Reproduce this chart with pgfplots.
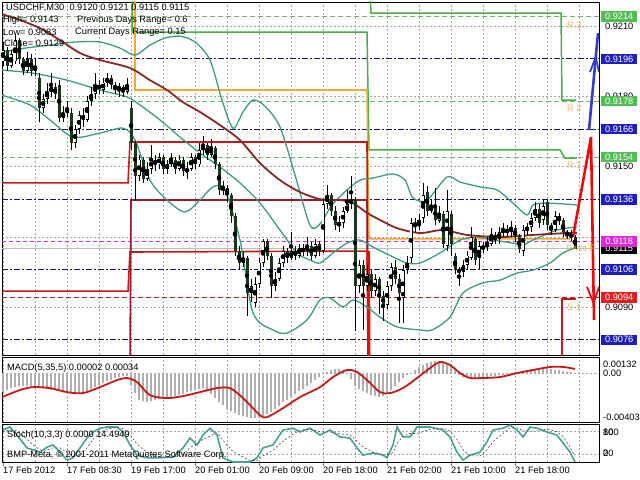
\documentclass[border=0pt]{standalone}
\usepackage{pgfplots}
\pgfplotsset{compat=1.18}
\usepackage{pgfplotstable}
\usepackage{fontspec}
\setmainfont{Liberation Sans}
\definecolor{gridc}{RGB}{165,165,165}
\definecolor{navyc}{RGB}{20,20,120}
\definecolor{navybox}{RGB}{30,30,190}
\definecolor{grnc}{RGB}{70,175,70}
\definecolor{grnbox}{RGB}{80,190,80}
\definecolor{grndash}{RGB}{110,185,110}
\definecolor{orac}{RGB}{240,170,50}
\definecolor{redc}{RGB}{200,25,25}
\definecolor{brightred}{RGB}{235,10,10}
\definecolor{maroonc}{RGB}{150,25,45}
\definecolor{mac}{RGB}{135,40,40}
\definecolor{tealc}{RGB}{60,155,130}
\definecolor{bearc}{RGB}{25,55,25}
\definecolor{magc}{RGB}{225,40,225}
\definecolor{redbox}{RGB}{225,30,30}
\definecolor{histc}{RGB}{175,175,175}
\definecolor{stochc}{RGB}{70,160,150}
\definecolor{pivtxt}{RGB}{235,185,110}
\definecolor{arrblue}{RGB}{50,60,200}
\definecolor{curc}{RGB}{190,190,190}
\newcommand{\lbl}{\fontsize{9.3}{10}\selectfont}

\pgfplotstableread{
x o h l c
3 0.9195 0.9203 0.9193 0.9200
11 0.9193 0.9200 0.9192 0.9198
15 0.9195 0.9206 0.9194 0.9204
27 0.9191 0.9199 0.9190 0.9196
35 0.9191 0.9196 0.9189 0.9193
43 0.9175 0.9181 0.9173 0.9179
47 0.9179 0.9186 0.9177 0.9182
51 0.9182 0.9190 0.9180 0.9184
63 0.9171 0.9176 0.9169 0.9173
67 0.9173 0.9178 0.9171 0.9175
75 0.9160 0.9168 0.9158 0.9166
79 0.9166 0.9174 0.9164 0.9172
87 0.9170 0.9180 0.9169 0.9178
91 0.9178 0.9184 0.9176 0.9181
95 0.9181 0.9190 0.9179 0.9185
103 0.9183 0.9188 0.9181 0.9186
107 0.9186 0.9190 0.9184 0.9188
119 0.9183 0.9186 0.9180 0.9184
127 0.9182 0.9188 0.9181 0.9185
139 0.9146 0.9155 0.9144 0.9153
147 0.9145 0.9152 0.9144 0.9149
151 0.9149 0.9159 0.9147 0.9153
159 0.9151 0.9156 0.9149 0.9154
167 0.9149 0.9153 0.9147 0.9151
171 0.9151 0.9156 0.9150 0.9153
179 0.9149 0.9155 0.9148 0.9153
187 0.9148 0.9152 0.9145 0.9149
191 0.9149 0.9156 0.9148 0.9154
199 0.9151 0.9160 0.9150 0.9157
203 0.9157 0.9163 0.9155 0.9159
211 0.9155 0.9162 0.9154 0.9158
223 0.9140 0.9144 0.9138 0.9141
243 0.9109 0.9114 0.9107 0.9111
251 0.9096 0.9102 0.9092 0.9099
255 0.9092 0.9103 0.9090 0.9100
259 0.9100 0.9111 0.9098 0.9109
263 0.9109 0.9119 0.9107 0.9118
275 0.9099 0.9105 0.9097 0.9102
279 0.9102 0.9111 0.9101 0.9109
283 0.9109 0.9116 0.9107 0.9114
291 0.9111 0.9122 0.9110 0.9114
299 0.9112 0.9117 0.9111 0.9115
307 0.9114 0.9120 0.9112 0.9116
315 0.9112 0.9119 0.9111 0.9117
323 0.9114 0.9136 0.9113 0.9134
327 0.9134 0.9142 0.9132 0.9138
339 0.9125 0.9129 0.9122 0.9126
343 0.9126 0.9133 0.9124 0.9131
347 0.9131 0.9140 0.9130 0.9134
351 0.9134 0.9146 0.9132 0.9136
359 0.9099 0.9110 0.9096 0.9108
367 0.9099 0.9108 0.9097 0.9104
375 0.9097 0.9104 0.9095 0.9102
387 0.9091 0.9101 0.9089 0.9099
391 0.9099 0.9109 0.9097 0.9107
403 0.9094 0.9108 0.9083 0.9106
407 0.9106 0.9112 0.9104 0.9109
411 0.9111 0.9128 0.9109 0.9126
419 0.9125 0.9130 0.9123 0.9126
423 0.9128 0.9143 0.9126 0.9138
431 0.9131 0.9136 0.9130 0.9133
439 0.9127 0.9133 0.9126 0.9130
447 0.9116 0.9140 0.9114 0.9131
463 0.9105 0.9110 0.9103 0.9108
467 0.9108 0.9114 0.9106 0.9112
471 0.9111 0.9124 0.9110 0.9120
479 0.9111 0.9118 0.9106 0.9116
483 0.9115 0.9118 0.9113 0.9116
487 0.9116 0.9120 0.9114 0.9117
491 0.9117 0.9124 0.9116 0.9121
499 0.9119 0.9124 0.9117 0.9122
503 0.9122 0.9126 0.9120 0.9123
511 0.9122 0.9127 0.9120 0.9124
523 0.9114 0.9125 0.9112 0.9123
527 0.9123 0.9126 0.9121 0.9124
531 0.9124 0.9130 0.9122 0.9128
535 0.9128 0.9135 0.9127 0.9132
543 0.9127 0.9136 0.9125 0.9133
555 0.9123 0.9131 0.9122 0.9129
}\bull

\pgfplotstableread{
x o h l c
7 0.9200 0.9201 0.9191 0.9193
19 0.9204 0.9205 0.9194 0.9196
23 0.9196 0.9197 0.9189 0.9191
31 0.9196 0.9198 0.9189 0.9191
39 0.9188 0.9190 0.9169 0.9175
55 0.9184 0.9186 0.9179 0.9181
59 0.9185 0.9187 0.9169 0.9171
71 0.9173 0.9175 0.9157 0.9160
83 0.9172 0.9175 0.9167 0.9170
99 0.9185 0.9187 0.9181 0.9183
111 0.9188 0.9189 0.9183 0.9185
115 0.9185 0.9186 0.9181 0.9183
123 0.9184 0.9185 0.9180 0.9182
131 0.9175 0.9178 0.9157 0.9160
135 0.9160 0.9161 0.9136 0.9146
143 0.9153 0.9154 0.9143 0.9145
155 0.9153 0.9155 0.9148 0.9151
163 0.9154 0.9155 0.9147 0.9149
175 0.9153 0.9154 0.9147 0.9149
183 0.9153 0.9154 0.9146 0.9148
195 0.9154 0.9155 0.9149 0.9151
207 0.9159 0.9160 0.9153 0.9155
215 0.9158 0.9159 0.9149 0.9151
219 0.9151 0.9152 0.9138 0.9140
227 0.9141 0.9142 0.9135 0.9138
231 0.9138 0.9139 0.9126 0.9129
235 0.9129 0.9130 0.9112 0.9114
239 0.9114 0.9116 0.9106 0.9109
247 0.9111 0.9112 0.9086 0.9096
267 0.9118 0.9119 0.9110 0.9112
271 0.9112 0.9113 0.9094 0.9099
287 0.9114 0.9115 0.9109 0.9111
295 0.9114 0.9116 0.9110 0.9112
303 0.9115 0.9117 0.9112 0.9114
311 0.9116 0.9118 0.9110 0.9112
319 0.9117 0.9118 0.9112 0.9114
331 0.9138 0.9139 0.9129 0.9131
335 0.9131 0.9133 0.9123 0.9125
355 0.9136 0.9137 0.9080 0.9099
363 0.9108 0.9110 0.9080 0.9099
371 0.9104 0.9106 0.9094 0.9097
379 0.9102 0.9103 0.9087 0.9095
383 0.9095 0.9097 0.9084 0.9091
395 0.9107 0.9110 0.9100 0.9102
399 0.9102 0.9104 0.9083 0.9096
415 0.9126 0.9128 0.9122 0.9125
427 0.9139 0.9142 0.9129 0.9131
435 0.9133 0.9141 0.9125 0.9127
443 0.9130 0.9131 0.9115 0.9117
451 0.9130 0.9131 0.9112 0.9117
455 0.9112 0.9113 0.9104 0.9106
459 0.9106 0.9107 0.9099 0.9105
475 0.9119 0.9120 0.9108 0.9110
495 0.9121 0.9122 0.9117 0.9119
507 0.9123 0.9125 0.9120 0.9122
515 0.9124 0.9125 0.9118 0.9120
519 0.9120 0.9121 0.9113 0.9115
539 0.9132 0.9134 0.9124 0.9126
547 0.9135 0.9136 0.9123 0.9125
551 0.9125 0.9126 0.9121 0.9123
559 0.9129 0.9130 0.9125 0.9127
563 0.9127 0.9128 0.9120 0.9122
567 0.9122 0.9123 0.9119 0.9121
571 0.9121 0.9123 0.9118 0.9120
575 0.9120 0.9121 0.9115 0.9115
}\bear

\pgfplotstableread{
x v
3 -0.00157
7 -0.00140
11 -0.00124
15 -0.00116
19 -0.00107
23 -0.00107
27 -0.00107
31 -0.00116
35 -0.00116
39 -0.00124
43 -0.00124
47 -0.00132
51 -0.00140
55 -0.00140
59 -0.00149
63 -0.00157
67 -0.00157
71 -0.00165
75 -0.00165
79 -0.00165
83 -0.00157
87 -0.00149
91 -0.00132
95 -0.00116
99 -0.00099
103 -0.00083
107 -0.00066
111 -0.00058
115 -0.00041
119 -0.00033
123 -0.00025
127 -0.00025
131 -0.00099
135 -0.00165
139 -0.00223
143 -0.00231
147 -0.00239
151 -0.00231
155 -0.00223
159 -0.00215
163 -0.00206
167 -0.00206
171 -0.00198
175 -0.00190
179 -0.00182
183 -0.00173
187 -0.00157
191 -0.00149
195 -0.00140
199 -0.00132
203 -0.00124
207 -0.00149
211 -0.00173
215 -0.00206
219 -0.00239
223 -0.00264
227 -0.00297
231 -0.00314
235 -0.00330
239 -0.00347
243 -0.00355
247 -0.00363
251 -0.00371
255 -0.00371
259 -0.00363
263 -0.00355
267 -0.00338
271 -0.00322
275 -0.00297
279 -0.00272
283 -0.00239
287 -0.00223
291 -0.00198
295 -0.00173
299 -0.00149
303 -0.00132
307 -0.00107
311 -0.00083
315 -0.00058
319 -0.00033
323 -0.00008
327 0.00008
331 0.00025
335 0.00033
339 0.00033
343 0.00025
347 -0.00008
351 -0.00050
355 -0.00107
359 -0.00132
363 -0.00149
367 -0.00165
371 -0.00182
375 -0.00190
379 -0.00198
383 -0.00190
387 -0.00165
391 -0.00140
395 -0.00107
399 -0.00074
403 -0.00041
407 -0.00017
411 0.00002
415 0.00025
419 0.00050
423 0.00066
427 0.00083
431 0.00091
435 0.00099
439 0.00099
443 0.00091
447 0.00074
451 0.00050
455 0.00017
459 -0.00017
463 -0.00033
467 -0.00041
471 -0.00050
475 -0.00050
479 -0.00041
483 -0.00033
487 -0.00033
491 -0.00025
495 -0.00025
499 -0.00017
503 -0.00017
507 -0.00008
511 0.00002
515 0.00008
519 0.00008
523 0.00017
527 0.00025
531 0.00033
535 0.00033
539 0.00033
543 0.00041
547 0.00041
551 0.00033
555 0.00025
559 0.00025
563 0.00017
567 0.00008
571 0.00008
575 0.00002
}\macdhist

\pgfplotstableread{
x v
2 -0.00198
20 -0.00140
33 -0.00116
50 -0.00124
67 -0.00157
83 -0.00165
100 -0.00116
117 -0.00058
127 -0.00041
137 -0.00074
150 -0.00182
167 -0.00206
183 -0.00190
200 -0.00157
217 -0.00124
230 -0.00124
243 -0.00206
260 -0.00347
267 -0.00363
283 -0.00289
300 -0.00198
320 -0.00116
333 -0.00033
347 0.00025
357 0.00008
367 -0.00058
380 -0.00157
390 -0.00165
403 -0.00124
417 -0.00041
430 0.00041
440 0.00091
450 0.00066
460 0.00000
470 -0.00041
483 -0.00041
500 -0.00033
517 0.00000
533 0.00025
550 0.00050
563 0.00050
575 0.00034
}\macdsig

\pgfplotstableread{
x v
3 84
10 92
17 71
27 37
33 32
40 26
47 39
53 45
60 26
67 5
73 11
80 37
87 63
93 79
100 89
107 92
117 92
123 79
130 45
137 18
147 11
160 11
173 13
183 37
190 63
197 45
203 71
210 89
217 71
223 11
233 0
250 0
257 11
263 37
273 45
283 84
293 89
300 79
310 89
320 71
330 84
340 66
350 63
357 37
363 18
373 24
383 18
387 11
393 45
397 92
403 66
410 66
417 92
430 92
443 84
450 66
457 26
463 5
470 18
480 26
487 53
493 84
503 89
510 97
517 84
523 66
530 92
537 89
547 79
557 71
563 50
570 26
575 0
}\stochmain

\pgfplotstableread{
x v
3 80
10 85
17 82
27 60
33 45
40 32
47 32
53 37
60 37
67 25
73 14
80 18
87 37
93 60
100 77
107 87
117 91
123 88
130 72
137 47
147 25
160 13
173 12
183 20
190 38
197 48
203 60
210 68
217 77
223 57
233 27
250 4
257 4
263 16
273 31
283 55
293 73
300 84
310 86
320 80
330 79
340 74
350 71
357 55
363 39
373 26
383 20
387 18
393 25
397 49
403 68
410 75
417 75
430 86
443 89
450 81
457 59
463 32
470 16
480 16
487 32
493 54
503 75
510 90
517 90
523 82
530 81
537 82
547 87
557 80
563 67
570 40
575 14.49
}\stochsig

\begin{document}
\begin{tikzpicture}[x=1bp,y=1bp]
\useasboundingbox (0,0) rectangle (640bp,-480bp);
\fill[white] (0,0) rectangle (640bp,-480bp);
\pgfplotsset{
  pane/.style={scale only axis, anchor=north west, width=597bp, xmin=2, xmax=599,
    axis line style={black, line width=0.8bp},
    scaled ticks=false,
    xtick={3.5,67.5,131.5,195.5,259.5,323.5,387.5,451.5,515.5},
    minor xtick={35.5,99.5,163.5,227.5,291.5,355.5,419.5,483.5,547.5,579.5},
    xmajorgrids, xminorgrids, ymajorgrids,
    grid style={gridc, dash pattern=on 2bp off 2bp, line width=0.5bp},
    minor grid style={gridc, dash pattern=on 2bp off 2bp, line width=0.5bp},
    major tick length=0pt, minor tick length=0pt,
    yticklabels={}, xticklabels={}},
  candle/.style={only marks, mark=none, error bars/.cd, y dir=both, y explicit, error mark=none},
}
% ================= MAIN PANE =================
\begin{axis}[pane, at={(2bp,-2bp)}, height=353bp, ymin=0.90695, ymax=0.92203,
  ytick={0.9090,0.9120,0.9150,0.9180,0.9210}]
\addplot[curc, line width=0.7bp] coordinates {(2,0.9115) (599,0.9115)};
\addplot[navyc, line width=0.9bp, dash pattern=on 6bp off 2bp on 2bp off 2bp] coordinates {(2,0.9196) (599,0.9196)};
\addplot[navyc, line width=0.9bp, dash pattern=on 6bp off 2bp on 2bp off 2bp] coordinates {(2,0.9166) (599,0.9166)};
\addplot[navyc, line width=0.9bp, dash pattern=on 6bp off 2bp on 2bp off 2bp] coordinates {(2,0.9136) (599,0.9136)};
\addplot[navyc, line width=0.9bp, dash pattern=on 6bp off 2bp on 2bp off 2bp] coordinates {(2,0.9106) (599,0.9106)};
\addplot[navyc, line width=0.9bp, dash pattern=on 6bp off 2bp on 2bp off 2bp] coordinates {(2,0.9076) (599,0.9076)};
\addplot[grndash, line width=0.8bp, dash pattern=on 5bp off 3bp] coordinates {(2,0.9214) (599,0.9214)};
\addplot[grndash, line width=0.8bp, dash pattern=on 5bp off 3bp] coordinates {(2,0.9178) (599,0.9178)};
\addplot[grndash, line width=0.8bp, dash pattern=on 5bp off 3bp] coordinates {(2,0.9154) (599,0.9154)};
\addplot[redc, line width=0.8bp, dash pattern=on 5bp off 3bp] coordinates {(2,0.9094) (599,0.9094)};
\addplot[magc, line width=0.8bp, dash pattern=on 4bp off 3bp] coordinates {(2,0.9118) (599,0.9118)};
\addplot[grnc, line width=1.5bp] coordinates {(132,0.9225) (132,0.92074) (367,0.92074) (369,0.91571) (560,0.91571) (565,0.91536) (577,0.91536)};
\addplot[grnc, line width=1.5bp] coordinates {(370,0.9225) (371,0.92156) (561,0.92156) (562,0.91784) (576,0.91784)};
\addplot[orac, line width=1.6bp] coordinates {(135,0.9225) (135,0.91827) (367,0.91827) (369,0.91191) (570,0.91191)};
\addplot[redc, line width=1.6bp] coordinates {(2,0.91430) (128,0.91430) (130,0.91605) (367,0.91605) (368,0.9065)};
\addplot[maroonc, line width=1.6bp] coordinates {(130,0.9065) (131,0.91357) (367,0.91357) (368,0.9065)};
\addplot[redc, line width=1.6bp] coordinates {(2,0.90968) (128,0.90968) (130,0.91135) (367,0.91139) (369,0.9065)};
\addplot[brightred, line width=3bp] coordinates {(368.5,0.91139) (369,0.9065)};
\addplot[redc, line width=1.6bp] coordinates {(562,0.9065) (562,0.90934) (576,0.90934)};
\addplot[tealc, line width=1.3bp, smooth] coordinates {(2,0.91989) (25,0.92006) (50,0.92019) (75,0.92032) (100,0.92032) (120,0.92006) (135,0.91976) (150,0.92019) (165,0.92049) (180,0.92057) (195,0.92032) (210,0.91955) (222,0.91784) (233,0.91664) (243,0.91733) (253,0.91784) (265,0.91758) (280,0.91669) (295,0.91464) (310,0.91250) (320,0.91255) (332,0.91336) (347,0.91400) (360,0.91442) (373,0.91451) (393,0.91468) (405,0.91442) (413,0.91366) (427,0.91357) (447,0.91455) (460,0.91434) (480,0.91413) (497,0.91400) (513,0.91344) (527,0.91293) (533,0.91336) (547,0.91344) (577,0.91336)};
\addplot[tealc, line width=1.3bp, smooth] coordinates {(2,0.91912) (33,0.91899) (67,0.91869) (100,0.91827) (127,0.91797) (140,0.91763) (160,0.91699) (180,0.91626) (200,0.91558) (220,0.91498) (240,0.91430) (260,0.91344) (280,0.91229) (297,0.91131) (310,0.91101) (320,0.91088) (333,0.91131) (347,0.91173) (360,0.91186) (373,0.91156) (393,0.91114) (407,0.91088) (420,0.91088) (440,0.91131) (460,0.91186) (477,0.91199) (493,0.91186) (513,0.91173) (523,0.91165) (533,0.91186) (557,0.91229) (577,0.91242)};
\addplot[tealc, line width=1.3bp, smooth] coordinates {(2,0.91805) (30,0.91763) (50,0.91699) (73,0.91626) (100,0.91643) (123,0.91664) (135,0.91613) (150,0.91442) (167,0.91357) (185,0.91306) (200,0.91357) (213,0.91413) (225,0.91400) (240,0.91186) (253,0.90875) (273,0.90802) (287,0.90789) (307,0.90845) (320,0.90930) (330,0.90939) (343,0.90900) (353,0.90930) (367,0.90900) (380,0.90857) (397,0.90815) (420,0.90802) (432,0.90802) (450,0.90857) (463,0.90960) (483,0.91003) (500,0.91015) (517,0.91045) (533,0.91058) (550,0.91088) (563,0.91131) (577,0.91156)};
\addplot[mac, line width=1.8bp, smooth] coordinates {(2,0.92151) (20,0.92126) (40,0.92091) (60,0.92040) (80,0.91985) (100,0.91955) (130,0.91921) (150,0.91869) (167,0.91827) (183,0.91775) (200,0.91733) (220,0.91677) (240,0.91613) (260,0.91515) (280,0.91442) (300,0.91391) (320,0.91361) (340,0.91357) (353,0.91344) (367,0.91302) (380,0.91272) (397,0.91237) (420,0.91216) (443,0.91229) (467,0.91208) (500,0.91199) (533,0.91208) (567,0.91216) (577,0.91216)};
\addplot[candle, error bar style={black, line width=0.8bp}] table[x=x, y expr={(\thisrow{h}+\thisrow{l})/2}, y error expr={(\thisrow{h}-\thisrow{l})/2}] {\bull};
\addplot[candle, error bar style={black, line width=0.8bp}] table[x=x, y expr={(\thisrow{h}+\thisrow{l})/2}, y error expr={(\thisrow{h}-\thisrow{l})/2}] {\bear};
\addplot[candle, error bar style={black, line width=3bp}] table[x=x, y expr={(\thisrow{o}+\thisrow{c})/2}, y error expr={abs(\thisrow{c}-\thisrow{o})/2}] {\bull};
\addplot[candle, error bar style={white, line width=1.2bp}] table[x=x, y expr={(\thisrow{o}+\thisrow{c})/2}, y error expr={abs(\thisrow{c}-\thisrow{o})/2-0.00004}] {\bull};
\addplot[candle, error bar style={bearc, line width=3bp}] table[x=x, y expr={(\thisrow{o}+\thisrow{c})/2}, y error expr={abs(\thisrow{c}-\thisrow{o})/2}] {\bear};
\addplot[arrblue, line width=2.6bp] coordinates {(589,0.91656) (598,0.92070)};
\addplot[arrblue, line width=1.8bp] coordinates {(590,0.91904) (595.8,0.91968) (599,0.91904)};
\addplot[brightred, line width=2.6bp] coordinates {(573,0.91199) (591,0.91626) (594,0.90845)};
\addplot[brightred, line width=1.8bp] coordinates {(587,0.90986) (593.6,0.90917) (599,0.90986)};
\coordinate (p9214) at (axis cs:599,0.9214);
\coordinate (p9210) at (axis cs:599,0.9210);
\coordinate (p9196) at (axis cs:599,0.9196);
\coordinate (p9180) at (axis cs:599,0.9180);
\coordinate (p9178) at (axis cs:599,0.9178);
\coordinate (p9166) at (axis cs:599,0.9166);
\coordinate (p9154) at (axis cs:599,0.9154);
\coordinate (p9150) at (axis cs:599,0.9150);
\coordinate (p9136) at (axis cs:599,0.9136);
\coordinate (p9118) at (axis cs:599,0.9118);
\coordinate (p9115) at (axis cs:599,0.9115);
\coordinate (p9106) at (axis cs:599,0.9106);
\coordinate (p9094) at (axis cs:599,0.9094);
\coordinate (p9090) at (axis cs:599,0.9090);
\coordinate (p9076) at (axis cs:599,0.9076);
\end{axis}
% ================= MACD PANE =================
\begin{axis}[pane, at={(2bp,-357bp)}, height=65bp, ymin=-0.00403, ymax=0.00132, ytick={0}]
\addplot[ybar, bar width=1.6bp, bar shift=0pt, fill=histc, draw=none] table[x=x, y=v] {\macdhist};
\addplot[redc, line width=1.8bp, smooth] table[x=x, y=v] {\macdsig};
\end{axis}
% ================= STOCH PANE =================
\begin{axis}[pane, at={(2bp,-424bp)}, height=38bp, ymin=0, ymax=100, ytick={20,80},
  xticklabels={17 Feb 2012,17 Feb 08:30,19 Feb 17:00,20 Feb 01:00,20 Feb 09:00,20 Feb 18:00,21 Feb 02:00,21 Feb 10:00,21 Feb 18:00},
  xtick pos=bottom, tick align=outside, major tick length=4bp, ytick style={draw=none},
  xticklabel style={anchor=north west, font=\lbl, inner sep=0pt, yshift=-1bp, xshift=-0.5bp}]
\addplot[stochc, line width=1.6bp] table[x=x, y=v] {\stochmain};
\addplot[black!70, line width=0.6bp, dash pattern=on 2bp off 2bp] table[x=x, y=v] {\stochsig};
\end{axis}
% ================= TEXTS =================
\begin{scope}[every node/.style={font=\lbl, inner sep=0pt, anchor=west}]
\node at (6,-8) {USDCHF,M30\ \ 0.9120 0.9121 0.9115 0.9115};
\node at (3,-20) {High= 0.9143};
\node at (77,-20) {Previous Days Range= 0.6};
\node at (3,-32) {Low= 0.9083};
\node at (75,-32) {Current Days Range= 0.15};
\node at (4,-43) {Close= 0.9129};
\node[text=pivtxt] at (567,-25) {R 3};
\node[text=pivtxt] at (567,-108) {R 2};
\node[text=pivtxt] at (567,-165) {R 1};
\node[text=pivtxt] at (566,-248) {Pivot P};
\node[text=pivtxt] at (567,-307) {S 1};
\node at (7,-368) {MACD(5,35,5) 0.00002 0.00034};
\node at (7,-435) {Stoch(10,3,3) 0.0000 14.4949};
\node at (7,-455) {BMP-Meta, \textcopyright\ 2001-2011 MetaQuotes Software Corp.};
\node at (603,-364) {0.00132};
\node at (603,-373) {0.00};
\node at (603,-417) {-0.00403};
\node at (603,-432) {100};
\node at (603,-432) {80};
\node at (603,-453) {20};
\node at (603,-453) {0};
\end{scope}
\begin{scope}[every node/.style={font=\lbl, anchor=west, inner xsep=2.5bp, inner ysep=0pt, minimum height=10.5bp, minimum width=36bp}]
\node at ([xshift=2bp]p9210) {0.9210};
\node at ([xshift=2bp]p9180) {0.9180};
\node at ([xshift=2bp]p9150) {0.9150};
\node at ([xshift=2bp]p9090) {0.9090};
\node[fill=grnbox, text=white] at ([xshift=2bp]p9214) {0.9214};
\node[fill=navybox, text=white] at ([xshift=2bp]p9196) {0.9196};
\node[fill=grnbox, text=white] at ([xshift=2bp]p9178) {0.9178};
\node[fill=navybox, text=white] at ([xshift=2bp]p9166) {0.9166};
\node[fill=grnbox, text=white] at ([xshift=2bp]p9154) {0.9154};
\node[fill=navybox, text=white] at ([xshift=2bp]p9136) {0.9136};
\node[fill=black, text=white] at ([xshift=2bp]p9115) {0.9115};
\node[fill=magc, text=white] at ([xshift=2bp]p9118) {0.9118};
\node[fill=navybox, text=white] at ([xshift=2bp]p9106) {0.9106};
\node[fill=redbox, text=white] at ([xshift=2bp]p9094) {0.9094};
\node[fill=navybox, text=white] at ([xshift=2bp]p9076) {0.9076};
\end{scope}
\end{tikzpicture}
\end{document}
